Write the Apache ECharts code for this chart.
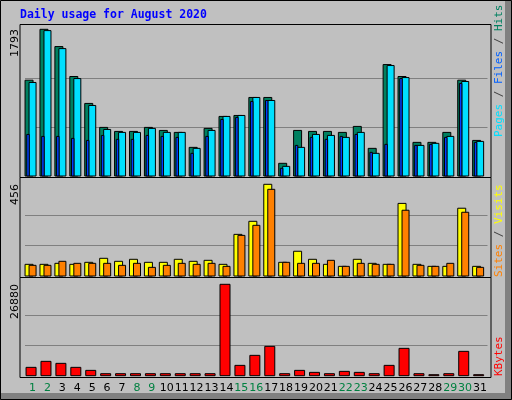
<!DOCTYPE html>
<html>
<head>
<meta charset="utf-8">
<script src="https://cdn.jsdelivr.net/npm/echarts@6/dist/echarts.min.js"></script>
<style>html,body{margin:0;padding:0;background:#c0c0c0}#main{width:512px;height:400px}</style>
</head>
<body>
<div id="main"></div>
<script>
const days = ['1','2','3','4','5','6','7','8','9','10','11','12','13','14','15','16','17','18','19','20','21','22','23','24','25','26','27','28','29','30','31'];
const weekend = ['1','2','8','9','15','16','22','23','29','30'];
const hits = [1171,1793,1582,1216,887,594,545,545,594,557,533,350,582,728,740,960,960,155,557,545,545,533,606,338,1362,1216,411,411,533,1171,435];
const files = [1143,1777,1557,1191,862,569,533,533,582,533,533,338,557,728,740,960,923,118,350,508,496,472,533,277,1350,1203,374,399,484,1155,423];
const pages = [508,484,484,460,435,496,448,448,496,484,472,277,484,691,716,911,923,94,374,472,448,484,508,289,387,1191,374,387,472,1131,411];
const visits = [58,58,63,58,68,88,73,83,68,68,83,73,78,58,207,272,456,68,123,83,58,48,83,63,58,361,58,48,48,337,48];
const sites = [53,53,73,63,63,63,53,63,43,53,63,58,63,48,202,252,431,68,63,63,78,48,63,58,58,327,53,48,63,317,43];
const kbytes = [2453,4218,3630,2453,1570,589,589,589,589,589,589,589,589,26880,3041,5984,8633,589,1570,981,589,1275,981,589,3041,8044,589,294,589,7161,294];
const maxHits = 1793, maxVisits = 456, maxKb = 26880;

const chart = echarts.init(document.getElementById('main'));

// bar drawn at pixel offset from category centre
function barItem(x0, w, color) {
  return function (params, api) {
    const top = api.coord([api.value(0), api.value(1)]);
    const base = api.coord([api.value(0), 0]);
    return {
      type: 'rect',
      shape: { x: top[0] + x0, y: top[1], width: w, height: base[1] - top[1] },
      style: { fill: color, stroke: '#000', lineWidth: 1 }
    };
  };
}
function series(data, idx, x0, w, color) {
  return {
    type: 'custom', xAxisIndex: idx, yAxisIndex: idx,
    renderItem: barItem(x0, w, color),
    data: data.map((v, i) => [i, v]), z: 3
  };
}

const grids = [
  { left: 25, width: 462.5, top: 29.3, height: 146.7 },
  { left: 25, width: 462.5, top: 184.3, height: 91.7 },
  { left: 25, width: 462.5, top: 284.3, height: 91.4 }
];
const maxes = [maxHits, maxVisits, maxKb];

function panel(y, h) {
  return { type: 'rect', shape: { x: 20, y: y, width: 471, height: h }, style: { fill: '#c0c0c0', stroke: '#000', lineWidth: 1 }, z: -1 };
}
function vtext(x, y, rich, text) {
  return { type: 'text', x: x, y: y, rotation: Math.PI / 2, style: { text: text, rich: rich, font: '11px "DejaVu Sans Mono"', align: 'left', verticalAlign: 'middle' } };
}

chart.setOption({
  animation: false,
  backgroundColor: '#c0c0c0',
  grid: grids,
  xAxis: grids.map((g, i) => ({
    type: 'category', gridIndex: i, data: days,
    axisLine: { show: false }, axisTick: { show: false },
    axisLabel: {
      show: i === 2, margin: 7, interval: 0,
      formatter: d => weekend.includes(d) ? '{w|' + d + '}' : '{n|' + d + '}',
      rich: {
        w: { color: '#008040', fontSize: 11, fontFamily: 'DejaVu Sans' },
        n: { color: '#000', fontSize: 11, fontFamily: 'DejaVu Sans' }
      }
    }
  })),
  yAxis: grids.map((g, i) => ({
    type: 'value', gridIndex: i, min: 0, max: maxes[i], interval: maxes[i] / 3,
    axisLabel: { show: false }, axisLine: { show: false }, axisTick: { show: false },
    splitLine: { show: true, showMinLine: false, showMaxLine: false, lineStyle: { color: '#808080', width: 1 } }
  })),
  graphic: [
    { type: 'rect', shape: { x: 505, y: 0, width: 7, height: 400 }, style: { fill: '#808080' }, z: -2 },
    { type: 'rect', shape: { x: 0, y: 393, width: 512, height: 7 }, style: { fill: '#808080' }, z: -2 },
    { type: 'rect', shape: { x: 0.5, y: 0.5, width: 511, height: 399 }, style: { fill: 'none', stroke: '#000' }, z: -2 },
    panel(24.5, 153), panel(177.5, 100), panel(277.5, 100),
    { type: 'text', x: 20, y: 15, style: { text: 'Daily usage for August 2020', fill: '#0000ff', font: 'bold 11.5px "DejaVu Sans Mono"', verticalAlign: 'middle' } },
    { type: 'text', x: 15, y: 29, rotation: Math.PI / 2, style: { text: '1793', fill: '#000', font: '11px "DejaVu Sans"', align: 'right', verticalAlign: 'middle' } },
    { type: 'text', x: 15, y: 184, rotation: Math.PI / 2, style: { text: '456', fill: '#000', font: '11px "DejaVu Sans"', align: 'right', verticalAlign: 'middle' } },
    { type: 'text', x: 15, y: 284, rotation: Math.PI / 2, style: { text: '26880', fill: '#000', font: '11px "DejaVu Sans"', align: 'right', verticalAlign: 'middle' } },
    vtext(499, 137, { p: { fill: '#00e0ff' }, s: { fill: '#404040' }, f: { fill: '#0060ff' }, h: { fill: '#008060' } },
      '{p|Pages}{s| / }{f|Files}{s| / }{h|Hits}'),
    vtext(499, 277, { a: { fill: '#ff8000' }, s: { fill: '#404040' }, b: { fill: '#ffff00' } },
      '{a|Sites}{s| / }{b|Visits}'),
    vtext(499, 376, { k: { fill: '#ff0000' } }, '{k|KBytes}')
  ],
  series: [
    series(hits, 0, -7.4, 8, '#008060'),
    series(files, 0, -3.4, 7, '#00e0ff'),
    series(pages, 0, -5.7, 2.5, '#0040ff'),
    series(visits, 1, -7.4, 8, '#ffff00'),
    series(sites, 1, -3.4, 7, '#ff8000'),
    series(kbytes, 2, -6.4, 10, '#ff0000')
  ]
});
</script>
</body>
</html>
